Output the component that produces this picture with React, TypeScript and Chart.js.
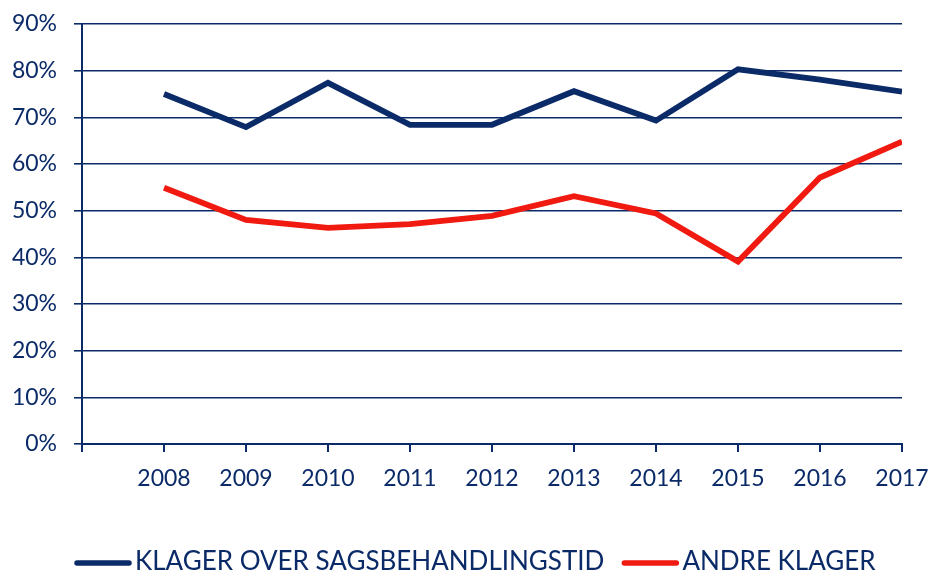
import React, { useEffect, useRef } from "react";
import { Chart, registerables } from "chart.js";

Chart.register(...registerables);

const years = [2008, 2009, 2010, 2011, 2012, 2013, 2014, 2015, 2016, 2017];
const sagsbehandlingstid = [75.0, 67.9, 77.4, 68.4, 68.4, 75.6, 69.3, 80.3, 78.1, 75.5];
const andreKlager = [54.9, 48.0, 46.3, 47.1, 48.9, 53.1, 49.4, 39.1, 57.1, 64.8];
const seriesNames = ["KLAGER OVER SAGSBEHANDLINGSTID", "ANDRE KLAGER"];

const NAVY = "#0b2a68";
const RED = "#f01a10";
const FONT = "Lato, 'Open Sans', sans-serif";

const legendPlugin = {
  id: "customLegend",
  afterDraw(chart: Chart) {
    const ctx = chart.ctx;
    ctx.save();
    ctx.font = `26px ${FONT}`;
    ctx.textBaseline = "alphabetic";
    ctx.textAlign = "left";
    let x = 75;
    const lineY = 563;
    const baseY = 570;
    chart.data.datasets.forEach((d) => {
      const color = d.borderColor as string;
      ctx.strokeStyle = color;
      ctx.lineWidth = 5.5;
      ctx.lineCap = "round";
      ctx.beginPath();
      ctx.moveTo(x + 2, lineY);
      ctx.lineTo(x + 54, lineY);
      ctx.stroke();
      x += 60;
      ctx.fillStyle = NAVY;
      const t = d.label as string;
      ctx.fillText(t, x, baseY);
      x += ctx.measureText(t).width + 18;
    });
    ctx.restore();
  },
};

export default function App() {
  const ref = useRef<HTMLCanvasElement | null>(null);

  useEffect(() => {
    document.body.style.margin = "0";
    const canvas = ref.current!;
    const chart = new Chart(canvas, {
      type: "line",
      data: {
        datasets: [
          {
            label: seriesNames[0],
            data: years.map((y, i) => ({ x: y, y: sagsbehandlingstid[i] })),
            borderColor: NAVY,
            backgroundColor: NAVY,
            borderWidth: 5.8,
            pointRadius: 0,
            tension: 0,
          },
          {
            label: seriesNames[1],
            data: years.map((y, i) => ({ x: y, y: andreKlager[i] })),
            borderColor: RED,
            backgroundColor: RED,
            borderWidth: 5.8,
            pointRadius: 0,
            tension: 0,
          },
        ],
      },
      plugins: [legendPlugin],
      options: {
        animation: false,
        responsive: false,
        layout: { padding: { left: 0, right: 33, top: 24, bottom: 0 } },
        plugins: {
          tooltip: { enabled: false },
          legend: { display: false },
        },
        scales: {
          x: {
            type: "linear",
            min: 2007,
            max: 2017,
            afterFit: (s: any) => {
              s.height = 127;
              s.paddingLeft = 0;
              s.paddingRight = 0;
            },
            ticks: {
              stepSize: 1,
              color: NAVY,
              font: { family: FONT, size: 23 },
              padding: 13,
              maxRotation: 0,
              autoSkip: false,
              callback: (v) => (Number(v) === 2007 ? "" : String(v)),
            },
            grid: {
              drawOnChartArea: false,
              drawTicks: true,
              tickLength: 8,
              color: NAVY,
              lineWidth: 2,
            },
            border: { display: true, color: NAVY, width: 2 },
          },
          y: {
            min: 0,
            max: 90,
            afterFit: (s: any) => {
              s.width = 82;
              s.paddingTop = 0;
              s.paddingBottom = 0;
            },
            ticks: {
              stepSize: 10,
              color: NAVY,
              font: { family: FONT, size: 23 },
              padding: 17,
              callback: (v) => v + "%",
            },
            grid: {
              drawOnChartArea: true,
              drawTicks: true,
              tickLength: 8,
              color: NAVY,
              lineWidth: 1.6,
            },
            border: { display: true, color: NAVY, width: 2 },
          },
        },
      },
    });
    return () => chart.destroy();
  }, []);

  return (
    <div style={{ width: 935, height: 571 }}>
      <canvas ref={ref} width={935} height={571} style={{ display: "block" }} />
    </div>
  );
}
